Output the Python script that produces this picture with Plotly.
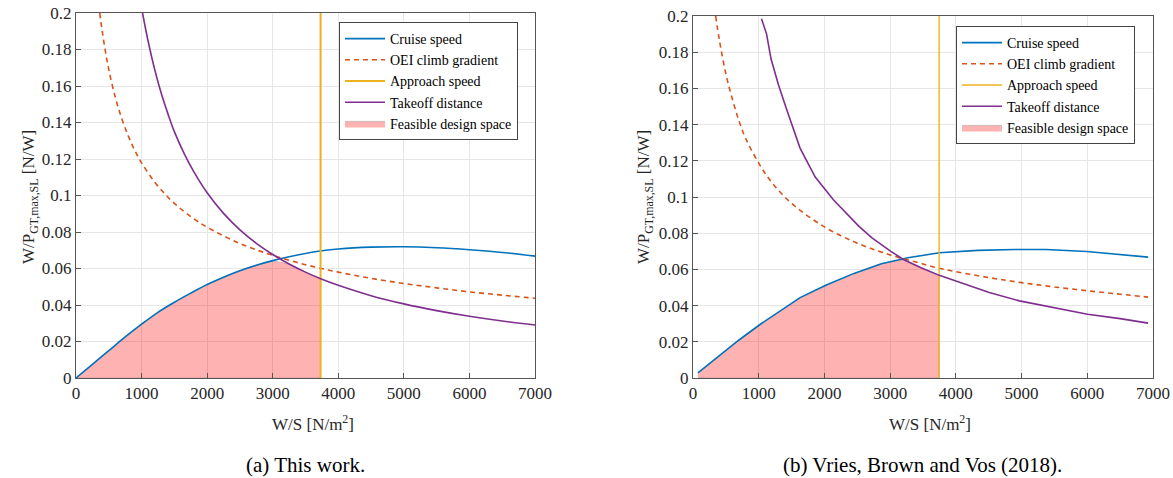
import numpy as np
import plotly.graph_objects as go

# ---------------- data: (a) This work ----------------
a_cruise_x = [0, 250, 500, 750, 1000, 1250, 1500, 1750, 2000, 2250, 2500, 2750, 3000, 3250,
              3500, 3750, 4000, 4500, 5000, 5500, 6000, 6500, 7000]
a_cruise_y = [0, 0.0075, 0.015, 0.0225, 0.0295, 0.0360, 0.0415, 0.0465, 0.0512, 0.0552, 0.0588,
              0.0618, 0.0643, 0.0664, 0.0682, 0.0697, 0.0707, 0.0717, 0.0719, 0.0714, 0.0703,
              0.0688, 0.0668]
a_oei_x = [362, 400, 450, 500, 600, 700, 800, 900, 1000, 1200, 1400, 1600, 1800, 2000, 2500,
           3000, 3500, 4000, 4500, 5000, 5500, 6000, 6500, 7000]
a_oei_y = [0.200, 0.190, 0.1787, 0.169, 0.1537, 0.1419, 0.1324, 0.1245, 0.1179, 0.1074, 0.0992,
           0.0926, 0.0872, 0.0826, 0.0737, 0.0672, 0.0621, 0.0580, 0.0546, 0.0518, 0.0494,
           0.0472, 0.0454, 0.0437]
a_takeoff_x = [1015, 1100, 1200, 1300, 1400, 1500, 1650, 1800, 2000, 2250, 2500, 2750, 3000,
               3250, 3500, 3750, 4000, 4500, 5000, 5500, 6000, 6500, 7000]
a_takeoff_y = [0.200, 0.1845, 0.169, 0.156, 0.145, 0.135, 0.123, 0.1128, 0.1015, 0.0902, 0.0812,
               0.0738, 0.0677, 0.0625, 0.058, 0.0541, 0.0508, 0.0451, 0.0406, 0.0369, 0.0338,
               0.0312, 0.029]
a_approach = 3730

# ---------------- data: (b) Vries, Brown and Vos (2018) ----------------
b_cruise_x = [75, 700, 1025, 1630, 2020, 2450, 2867, 3270, 3748, 4335, 4900, 5371, 5990, 6926]
b_cruise_y = [0.0028, 0.021, 0.0297, 0.0444, 0.0512, 0.0578, 0.0631, 0.0664, 0.0692, 0.0705,
              0.0710, 0.0710, 0.0699, 0.0668]
b_oei_x = [345, 400, 500, 600, 700, 800, 1000, 1200, 1500, 2000, 2500, 3000, 3500, 3748, 4500,
           5000, 5500, 6000, 6500, 6926]
b_oei_y = [0.200, 0.187, 0.168, 0.154, 0.142, 0.1325, 0.1187, 0.108, 0.0965, 0.0835, 0.0745,
           0.068, 0.0630, 0.0606, 0.0555, 0.0527, 0.0503, 0.0482, 0.0463, 0.0447]
b_takeoff_x = [1042, 1120, 1186, 1300, 1428, 1530, 1629, 1860, 2136, 2522, 2723, 3011, 3200,
               3471, 3748, 4100, 4508, 4968, 5500, 6004, 6500, 6926]
b_takeoff_y = [0.1985, 0.190, 0.1765, 0.162, 0.148, 0.137, 0.127, 0.111, 0.0985, 0.0839, 0.0774,
               0.0700, 0.0655, 0.0609, 0.0567, 0.0523, 0.0472, 0.0426, 0.0390, 0.0352, 0.0328,
               0.0303]
b_approach = 3745

x_ticks = [0, 1000, 2000, 3000, 4000, 5000, 6000, 7000]
y_ticks = [0, 0.02, 0.04, 0.06, 0.08, 0.1, 0.12, 0.14, 0.16, 0.18, 0.2]
y_tick_text = ["0", "0.02", "0.04", "0.06", "0.08", "0.1", "0.12", "0.14", "0.16", "0.18", "0.2"]

captions = ["(a) This work.", "(b) Vries, Brown and Vos (2018)."]
names = ["Cruise speed", "OEI climb gradient", "Approach speed", "Takeoff distance",
         "Feasible design space"]

BLUE, ORANGE, YELLOW, PURPLE = "#0072BD", "#D95319", "#EDB120", "#7E2F8E"
FONT = "Liberation Serif"

W, H = 1173, 478


def feasible(cx, cy, tx, ty, xa):
    cx = np.asarray(cx, float); cy = np.asarray(cy, float)
    tx = np.asarray(tx, float); ty = np.asarray(ty, float)
    grid = np.unique(np.concatenate([cx, tx, [xa]]))
    grid = grid[(grid >= cx[0]) & (grid <= xa)]
    up_c = np.interp(grid, cx, cy)
    up_t = np.where(grid < tx[0], np.inf, np.interp(grid, tx, ty))
    upper = np.minimum(up_c, up_t)
    fx = list(grid) + [xa, cx[0]]
    fy = list(upper) + [0, 0]
    return fx, fy


fig = go.Figure()

panels = [
    dict(cx=a_cruise_x, cy=a_cruise_y, ox=a_oei_x, oy=a_oei_y, tx=a_takeoff_x, ty=a_takeoff_y,
         ap=a_approach, xa="x", ya="y", legend="legend", aw=2),
    dict(cx=b_cruise_x, cy=b_cruise_y, ox=b_oei_x, oy=b_oei_y, tx=b_takeoff_x, ty=b_takeoff_y,
         ap=b_approach, xa="x2", ya="y2", legend="legend2", aw=1.4),
]

for p in panels:
    fx, fy = feasible(p["cx"], p["cy"], p["tx"], p["ty"], p["ap"])
    common = dict(xaxis=p["xa"], yaxis=p["ya"], legend=p["legend"])
    smooth = "spline" if p["xa"] == "x" else "linear"
    fig.add_trace(go.Scatter(x=fx, y=fy, fill="toself", fillcolor="rgba(255,0,0,0.3)",
                             mode="lines", line=dict(color="rgba(120,120,120,0.6)", width=0.6),
                             name=names[4], legendrank=5, hoverinfo="skip", **common))
    fig.add_trace(go.Scatter(x=p["cx"], y=p["cy"], mode="lines", name=names[0], legendrank=1,
                             line=dict(color=BLUE, width=1.6, shape=smooth), **common))
    fig.add_trace(go.Scatter(x=p["ox"], y=p["oy"], mode="lines", name=names[1], legendrank=2,
                             line=dict(color=ORANGE, width=1.6, dash="5px,4px", shape="spline"),
                             **common))
    fig.add_trace(go.Scatter(x=[p["ap"], p["ap"]], y=[0, 0.2], mode="lines", name=names[2],
                             legendrank=3, line=dict(color=YELLOW, width=p["aw"]), **common))
    fig.add_trace(go.Scatter(x=p["tx"], y=p["ty"], mode="lines", name=names[3], legendrank=4,
                             line=dict(color=PURPLE, width=1.6, shape=smooth), **common))

# plot area pixel boxes (left, right, top, bottom)
boxes = [(76, 535, 13, 378), (693, 1153, 16, 378)]


def px_x(v):
    return v / W


def px_y(v):
    return 1 - v / H


axis_common = dict(showline=True, linecolor="#555555", linewidth=1, mirror=True,
                   showgrid=True, gridcolor="#e6e6e6", gridwidth=1, zeroline=False,
                   ticks="inside", ticklen=5, tickcolor="#555555",
                   tickfont=dict(family=FONT, size=17, color="#262626"), automargin=False)

for i, (l, r, t, b) in enumerate(boxes):
    sfx = "" if i == 0 else "2"
    fig.update_layout(**{
        "xaxis" + sfx: dict(domain=[px_x(l), px_x(r)], range=[0, 7000], tickvals=x_ticks,
                            anchor="y" + sfx, **axis_common),
        "yaxis" + sfx: dict(domain=[px_y(b), px_y(t)], range=[0, 0.2], tickvals=y_ticks,
                            ticktext=y_tick_text, anchor="x" + sfx, **axis_common),
    })

ann = []
centers = [(305, 197), (922, 197)]
ylab_x = [30, 645]
for i, (cx, cy) in enumerate(centers):
    ann.append(dict(x=px_x(ylab_x[i]), y=px_y(cy), xref="paper", yref="paper",
                    text="W/P<sub>GT,max,SL</sub> [N/W]", textangle=-90, showarrow=False,
                    font=dict(family=FONT, size=17, color="#262626"),
                    xanchor="center", yanchor="middle"))
    ann.append(dict(x=px_x(cx + 8), y=px_y(423), xref="paper", yref="paper",
                    text="W/S [N/m<sup>2</sup>]", showarrow=False,
                    font=dict(family=FONT, size=17, color="#262626"),
                    xanchor="center", yanchor="middle"))
    ann.append(dict(x=px_x(cx), y=px_y(465), xref="paper", yref="paper",
                    text=captions[i], showarrow=False,
                    font=dict(family=FONT, size=21, color="black"),
                    xanchor="center", yanchor="middle"))

legend_common = dict(bgcolor="white", bordercolor="#444444", borderwidth=1,
                     font=dict(family=FONT, size=14, color="black"), tracegroupgap=0,
                     xanchor="left", yanchor="top", traceorder="normal", itemwidth=40)

fig.update_layout(
    width=W, height=H, margin=dict(l=0, r=0, t=0, b=0),
    paper_bgcolor="white", plot_bgcolor="white",
    annotations=ann,
    legend=dict(x=px_x(339), y=px_y(22), **legend_common),
    legend2=dict(x=px_x(956), y=px_y(26), **legend_common),
)

fig.write_html("out.html")
